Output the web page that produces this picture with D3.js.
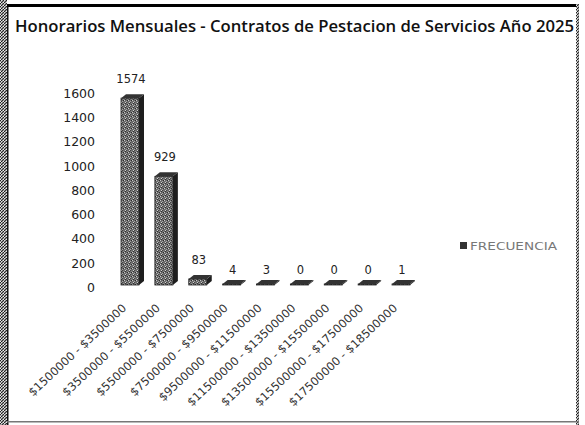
<!DOCTYPE html>
<html><head><meta charset="utf-8">
<script src="https://cdn.jsdelivr.net/npm/d3@7/dist/d3.min.js"></script>
<style>html,body{margin:0;padding:0;background:#fff;}svg{display:block;}</style>
</head><body>
<script>
const title = "Honorarios Mensuales - Contratos de Pestacion de Servicios Año 2025";
const categories = ["$1500000 - $3500000","$3500000 - $5500000","$5500000 - $7500000","$7500000 - $9500000","$9500000 - $11500000","$11500000 - $13500000","$13500000 - $15500000","$15500000 - $17500000","$17500000 - $18500000"];
const frecuencia = [1574, 929, 83, 4, 3, 0, 0, 0, 1];
const yTicks = [0, 200, 400, 600, 800, 1000, 1200, 1400, 1600];
const seriesName = "FRECUENCIA";

const W = 585, H = 425;
const svg = d3.select("body").append("svg").attr("width", W).attr("height", H);
const defs = svg.append("defs");

// stipple texture for bars
const pat = defs.append("pattern").attr("id","stip").attr("patternUnits","userSpaceOnUse").attr("width",4).attr("height",4);
pat.append("rect").attr("width",4).attr("height",4).attr("fill","#6a6a6a");
[[0,0,"#c8c8c8"],[2,1,"#a5a5a5"],[1,2,"#d0d0d0"],[3,3,"#8a8a8a"],[3,0,"#2a2a2a"],[1,3,"#333"],[2,2,"#444"]].forEach(([x,y,c])=>pat.append("rect").attr("x",x).attr("y",y).attr("width",1).attr("height",1).attr("fill",c));
// grainy edge texture
const ep = defs.append("pattern").attr("id","edge").attr("patternUnits","userSpaceOnUse").attr("width",3).attr("height",3);
ep.append("rect").attr("width",3).attr("height",3).attr("fill","#9a9a9a");
[[0,0,"#222"],[2,1,"#333"],[1,2,"#1a1a1a"],[1,0,"#ddd"],[0,2,"#eee"]].forEach(([x,y,c])=>ep.append("rect").attr("x",x).attr("y",y).attr("width",1).attr("height",1).attr("fill",c));

// frame
svg.append("rect").attr("x",0).attr("y",0).attr("width",7).attr("height",H).attr("fill","url(#edge)");
svg.append("rect").attr("x",7).attr("y",4).attr("width",1.5).attr("height",H-4).attr("fill","#111");
svg.append("rect").attr("x",7).attr("y",4).attr("width",572).attr("height",3).attr("fill","#000");
svg.append("rect").attr("x",576).attr("y",4).attr("width",3).attr("height",H-4).attr("fill","url(#edge)");
svg.append("rect").attr("x",7).attr("y",421).attr("width",572).attr("height",1.5).attr("fill","#777");

// title
svg.append("text").attr("x",15).attr("y",32).text(title)
  .attr("font-family","'Open Sans', sans-serif").attr("font-weight",600).attr("font-size",15.5)
  .attr("textLength",559).attr("lengthAdjust","spacingAndGlyphs").attr("fill","#111");

// scales
const y = d3.scaleLinear().domain([0,1600]).range([287,93]);
const x = d3.scalePoint().domain(categories).range([130,401]);
const bw = 18, dx = 5, dy = 4;

// y axis labels
const yAxis = d3.axisLeft(y).tickValues(yTicks).tickFormat(d3.format("d")).tickSize(0).tickPadding(0);
const ga = svg.append("g").attr("transform","translate(95,0)").call(yAxis);
ga.select(".domain").remove();
ga.selectAll("text").attr("font-family","'DejaVu Sans', sans-serif").attr("font-size",12.5).attr("fill","#222").attr("dy","0.35em");

// bars (3D)
const base = 285;
const bars = svg.append("g");
categories.forEach((c,i)=>{
  const v = frecuencia[i];
  const cx = x(c), x0 = cx - bw/2, x1 = cx + bw/2;
  const top = Math.min(y(v) + 2, base - 1);
  const g = bars.append("g");
  g.append("path").attr("d",`M${x1},${top}L${x1+dx},${top-dy}L${x1+dx},${base-dy}L${x1},${base}Z`).attr("fill","#1e1e1e");
  g.append("rect").attr("x",x0).attr("y",top).attr("width",bw).attr("height",base-top).attr("fill","url(#stip)").attr("stroke","#222").attr("stroke-width",0.8);
  g.append("path").attr("d",`M${x0},${top}L${x0+dx},${top-dy}L${x1+dx},${top-dy}L${x1},${top}Z`).attr("fill","#333");
  svg.append("text").attr("x",cx+1).attr("y",Math.min(y(v),287)-13).attr("text-anchor","middle").text(v)
    .attr("font-family","'DejaVu Sans', sans-serif").attr("font-size",11.5).attr("fill","#222");
});

// category labels
categories.forEach(c=>{
  svg.append("text").attr("transform",`translate(${x(c)-3},309) rotate(-43)`).attr("text-anchor","end").text(c)
    .attr("font-family","'DejaVu Sans', sans-serif").attr("font-size",11.5).attr("fill","#333");
});

// legend
svg.append("rect").attr("x",460).attr("y",242).attr("width",7).attr("height",7).attr("fill","#333");
svg.append("text").attr("x",470).attr("y",249.5).text(seriesName)
  .attr("font-family","'DejaVu Sans', sans-serif").attr("font-size",10.5).attr("fill","#777")
  .attr("textLength",87).attr("lengthAdjust","spacingAndGlyphs");
</script>
</body></html>
